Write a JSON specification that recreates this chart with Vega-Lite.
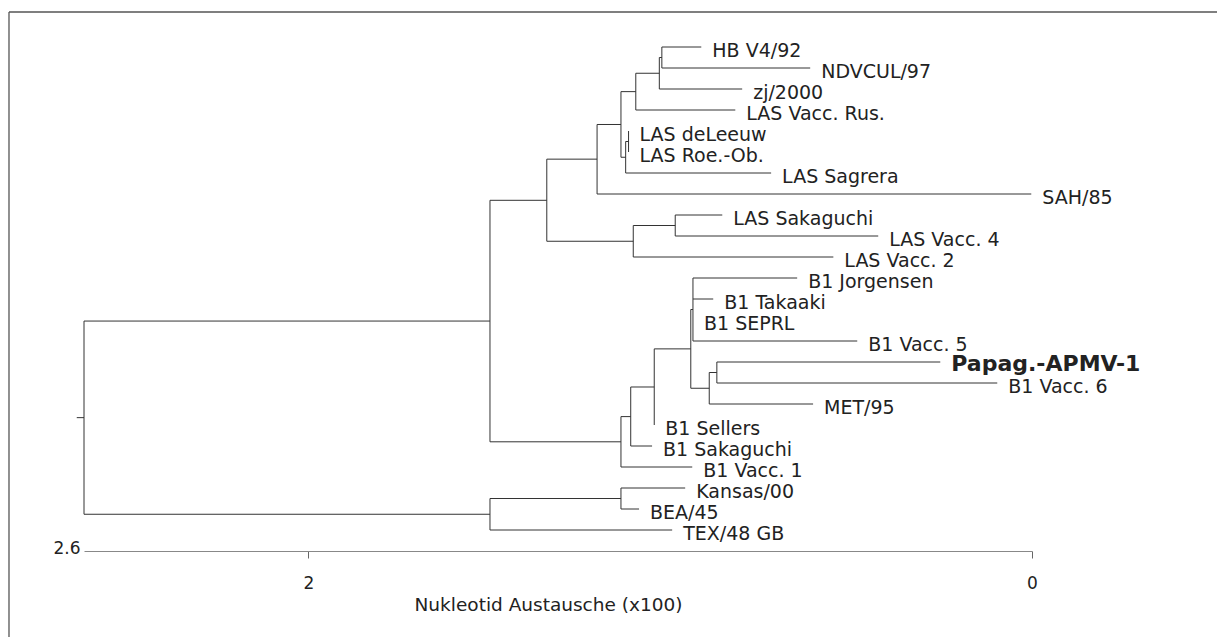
{
  "$schema": "https://vega.github.io/schema/vega-lite/v6.json",
  "width": 948,
  "height": 539,
  "autosize": {"type": "none"},
  "padding": {"left": 84, "top": 12, "right": 185, "bottom": 86},
  "background": "white",
  "config": {"view": {"stroke": null}},
  "datasets": {
    "segs": [
      {"x1":2.64,"x2":2.62,"y1":17.65,"y2":17.65},
      {"x1":2.62,"x2":1.498,"y1":13.05,"y2":13.05},
      {"x1":2.62,"x2":1.498,"y1":22.25,"y2":22.25},
      {"x1":1.498,"x2":1.341,"y1":7.3,"y2":7.3},
      {"x1":1.498,"x2":1.136,"y1":18.8,"y2":18.8},
      {"x1":1.341,"x2":1.202,"y1":5.34,"y2":5.34},
      {"x1":1.341,"x2":1.102,"y1":9.25,"y2":9.25},
      {"x1":1.202,"x2":1.136,"y1":3.69,"y2":3.69},
      {"x1":1.202,"x2":0.002,"y1":7,"y2":7},
      {"x1":1.136,"x2":1.095,"y1":2.125,"y2":2.125},
      {"x1":1.136,"x2":1.123,"y1":5.25,"y2":5.25},
      {"x1":1.095,"x2":1.03,"y1":1.25,"y2":1.25},
      {"x1":1.095,"x2":0.82,"y1":3,"y2":3},
      {"x1":1.03,"x2":1.023,"y1":0.5,"y2":0.5},
      {"x1":1.03,"x2":0.801,"y1":2,"y2":2},
      {"x1":1.023,"x2":0.914,"y1":0,"y2":0},
      {"x1":1.023,"x2":0.613,"y1":1,"y2":1},
      {"x1":1.123,"x2":1.115,"y1":4.5,"y2":4.5},
      {"x1":1.123,"x2":0.721,"y1":6,"y2":6},
      {"x1":1.102,"x2":0.986,"y1":8.5,"y2":8.5},
      {"x1":1.102,"x2":0.549,"y1":10,"y2":10},
      {"x1":0.986,"x2":0.856,"y1":8,"y2":8},
      {"x1":0.986,"x2":0.425,"y1":9,"y2":9},
      {"x1":1.136,"x2":1.109,"y1":17.6,"y2":17.6},
      {"x1":1.136,"x2":0.939,"y1":20,"y2":20},
      {"x1":1.109,"x2":1.044,"y1":16.19,"y2":16.19},
      {"x1":1.109,"x2":1.05,"y1":19,"y2":19},
      {"x1":1.044,"x2":0.943,"y1":14.375,"y2":14.375},
      {"x1":0.943,"x2":0.937,"y1":12.5,"y2":12.5},
      {"x1":0.943,"x2":0.892,"y1":16.25,"y2":16.25},
      {"x1":0.937,"x2":0.649,"y1":11,"y2":11},
      {"x1":0.937,"x2":0.881,"y1":12,"y2":12},
      {"x1":0.937,"x2":0.483,"y1":14,"y2":14},
      {"x1":0.892,"x2":0.871,"y1":15.5,"y2":15.5},
      {"x1":0.892,"x2":0.605,"y1":17,"y2":17},
      {"x1":0.871,"x2":0.2535,"y1":15,"y2":15},
      {"x1":0.871,"x2":0.096,"y1":16,"y2":16},
      {"x1":1.498,"x2":1.136,"y1":21.5,"y2":21.5},
      {"x1":1.498,"x2":0.9945,"y1":23,"y2":23},
      {"x1":1.136,"x2":0.9585,"y1":21,"y2":21},
      {"x1":1.136,"x2":1.086,"y1":22,"y2":22},
      {"x1":2.62,"x2":2.62,"y1":13.05,"y2":22.25},
      {"x1":1.498,"x2":1.498,"y1":7.3,"y2":18.8},
      {"x1":1.498,"x2":1.498,"y1":21.5,"y2":23},
      {"x1":1.341,"x2":1.341,"y1":5.34,"y2":9.25},
      {"x1":1.202,"x2":1.202,"y1":3.69,"y2":7},
      {"x1":1.136,"x2":1.136,"y1":2.125,"y2":5.25},
      {"x1":1.095,"x2":1.095,"y1":1.25,"y2":3},
      {"x1":1.03,"x2":1.03,"y1":0.5,"y2":2},
      {"x1":1.023,"x2":1.023,"y1":0,"y2":1},
      {"x1":1.123,"x2":1.123,"y1":4.5,"y2":6},
      {"x1":1.115,"x2":1.115,"y1":4,"y2":5},
      {"x1":1.102,"x2":1.102,"y1":8.5,"y2":10},
      {"x1":0.986,"x2":0.986,"y1":8,"y2":9},
      {"x1":1.136,"x2":1.136,"y1":17.6,"y2":20},
      {"x1":1.109,"x2":1.109,"y1":16.19,"y2":19},
      {"x1":1.044,"x2":1.044,"y1":14.375,"y2":18},
      {"x1":0.943,"x2":0.943,"y1":12.5,"y2":16.25},
      {"x1":0.937,"x2":0.937,"y1":11,"y2":14},
      {"x1":0.892,"x2":0.892,"y1":15.5,"y2":17},
      {"x1":0.871,"x2":0.871,"y1":15,"y2":16},
      {"x1":1.136,"x2":1.136,"y1":21,"y2":22}
    ],
    "frame": [
      {"x1":2.8273,"x2":-0.52,"y1":-1.667,"y2":-1.667},
      {"x1":2.8273,"x2":2.8273,"y1":-1.667,"y2":28.2}
    ],
    "leaves": [
      {"name":"HB V4/92","pos":0,"dist":0.914},
      {"name":"NDVCUL/97","pos":1,"dist":0.613},
      {"name":"zj/2000","pos":2,"dist":0.801},
      {"name":"LAS Vacc. Rus.","pos":3,"dist":0.82},
      {"name":"LAS deLeeuw","pos":4,"dist":1.115},
      {"name":"LAS Roe.-Ob.","pos":5,"dist":1.115},
      {"name":"LAS Sagrera","pos":6,"dist":0.721},
      {"name":"SAH/85","pos":7,"dist":0.002},
      {"name":"LAS Sakaguchi","pos":8,"dist":0.856},
      {"name":"LAS Vacc. 4","pos":9,"dist":0.425},
      {"name":"LAS Vacc. 2","pos":10,"dist":0.549},
      {"name":"B1 Jorgensen","pos":11,"dist":0.649},
      {"name":"B1 Takaaki","pos":12,"dist":0.881},
      {"name":"B1 SEPRL","pos":13,"dist":0.937},
      {"name":"B1 Vacc. 5","pos":14,"dist":0.483},
      {"name":"Papag.-APMV-1","pos":15,"dist":0.2535},
      {"name":"B1 Vacc. 6","pos":16,"dist":0.096},
      {"name":"MET/95","pos":17,"dist":0.605},
      {"name":"B1 Sellers","pos":18,"dist":1.044},
      {"name":"B1 Sakaguchi","pos":19,"dist":1.05},
      {"name":"B1 Vacc. 1","pos":20,"dist":0.939},
      {"name":"Kansas/00","pos":21,"dist":0.9585},
      {"name":"BEA/45","pos":22,"dist":1.086},
      {"name":"TEX/48 GB","pos":23,"dist":0.9945}
    ]
  },
  "layer": [
    {
      "data": {"name": "segs"},
      "mark": {"type": "rule", "color": "#333333", "strokeWidth": 1},
      "encoding": {
        "x": {
          "field": "x1", "type": "quantitative",
          "scale": {"domain": [0, 2.62], "reverse": true, "nice": false, "zero": false},
          "axis": {
            "values": [2.62, 2, 0],
            "format": "~g",
            "labelExpr": "datum.value > 2.5 ? '2.6' : format(datum.value, '~g')",
            "labelFlush": false,
            "labelOverlap": false,
            "grid": false,
            "domainColor": "#888888",
            "domainWidth": 1,
            "tickColor": "#666666",
            "tickSize": 7,
            "tickOpacity": {"condition": {"test": "datum.value > 2.5", "value": 0}, "value": 1},
            "labelAlign": {"condition": {"test": "datum.value > 2.5", "value": "right"}, "value": "center"},
            "labelBaseline": {"condition": {"test": "datum.value > 2.5", "value": "middle"}, "value": "top"},
            "labelPadding": {"condition": {"test": "datum.value > 2.5", "value": -10}, "value": 17},
            "labelOffset": {"condition": {"test": "datum.value > 2.5", "value": -4}, "value": 0},
            "labelFont": "DejaVu Sans",
            "labelFontSize": 17,
            "labelColor": "#222222",
            "title": "Nukleotid Austausche (x100)",
            "titleFont": "DejaVu Sans",
            "titleFontSize": 18.5,
            "titleFontWeight": "normal",
            "titleColor": "#222222",
            "titleX": 464,
            "titleY": 59,
            "titleAlign": "center",
            "titleBaseline": "alphabetic"
          }
        },
        "x2": {"field": "x2"},
        "y": {
          "field": "y1", "type": "quantitative",
          "scale": {"domain": [-1.667, 24], "reverse": true, "nice": false, "zero": false},
          "axis": null
        },
        "y2": {"field": "y2"}
      }
    },
    {
      "data": {"name": "frame"},
      "mark": {"type": "rule", "color": "#555555", "strokeWidth": 1.3},
      "encoding": {
        "x": {"field": "x1", "type": "quantitative"},
        "x2": {"field": "x2"},
        "y": {"field": "y1", "type": "quantitative"},
        "y2": {"field": "y2"}
      }
    },
    {
      "data": {"name": "leaves"},
      "transform": [{"filter": "datum.name != 'Papag.-APMV-1'"}],
      "mark": {"type": "text", "align": "left", "baseline": "middle", "dx": 11, "dy": 4, "font": "DejaVu Sans", "fontSize": 19, "color": "#222222"},
      "encoding": {
        "x": {"field": "dist", "type": "quantitative"},
        "y": {"field": "pos", "type": "quantitative"},
        "text": {"field": "name"}
      }
    },
    {
      "data": {"name": "leaves"},
      "transform": [{"filter": "datum.name == 'Papag.-APMV-1'"}],
      "mark": {"type": "text", "align": "left", "baseline": "middle", "dx": 11, "dy": 2, "font": "DejaVu Sans", "fontSize": 22, "fontWeight": "bold", "color": "#222222"},
      "encoding": {
        "x": {"field": "dist", "type": "quantitative"},
        "y": {"field": "pos", "type": "quantitative"},
        "text": {"field": "name"}
      }
    }
  ]
}
